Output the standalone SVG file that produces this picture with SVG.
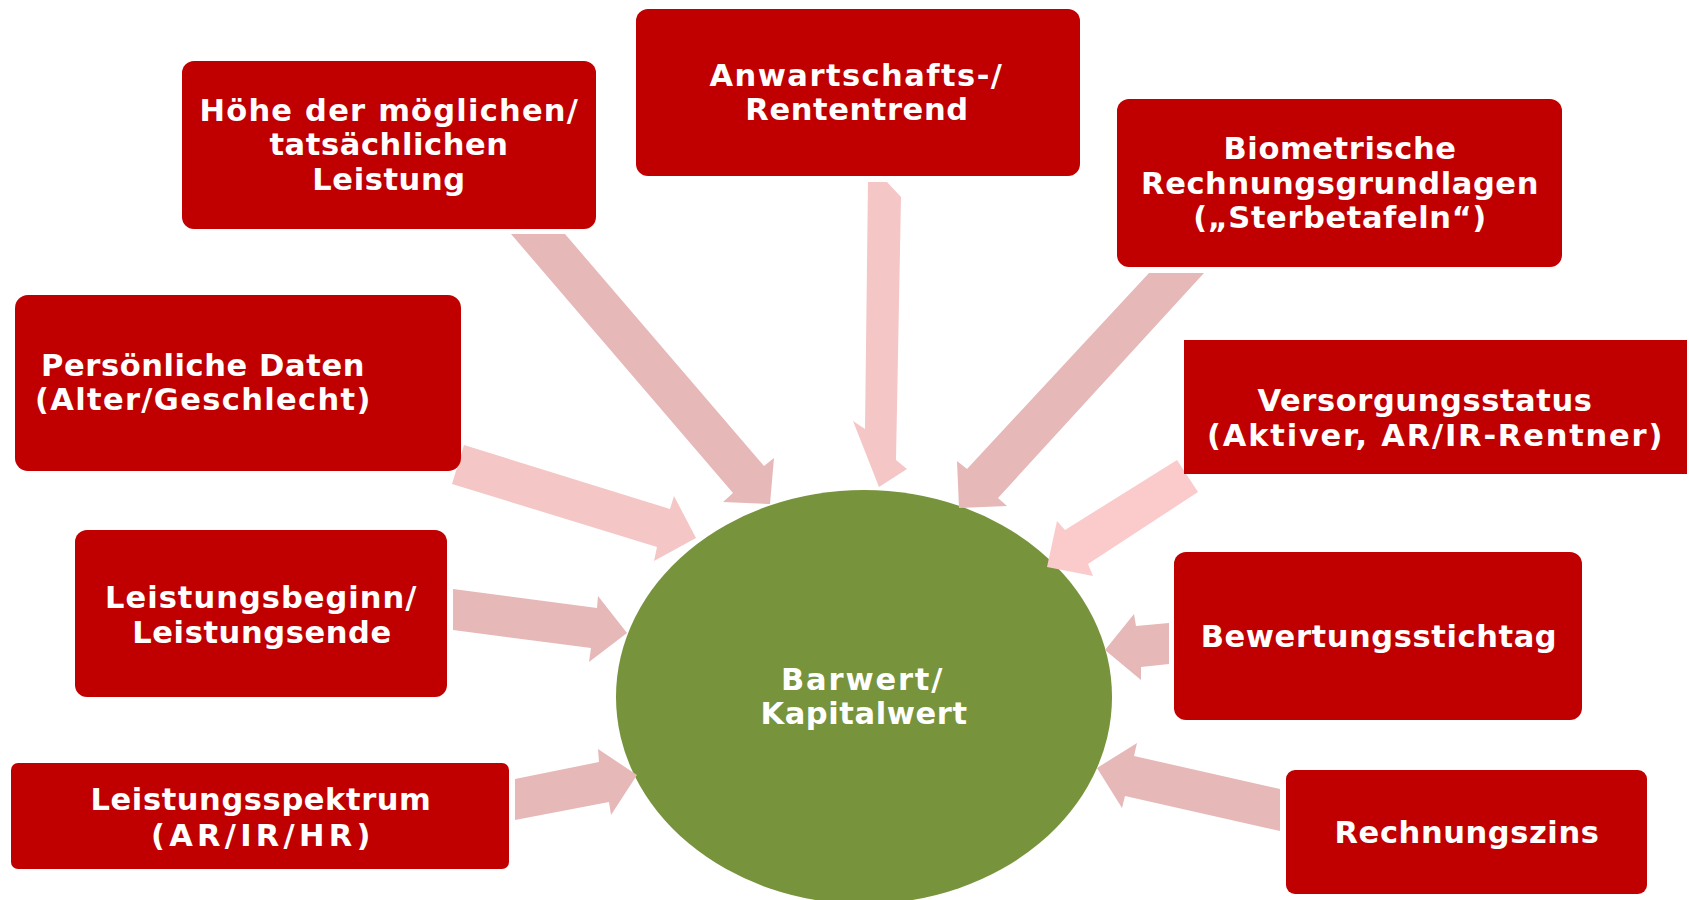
<svg xmlns="http://www.w3.org/2000/svg" width="1689" height="900" viewBox="0 0 1689 900">
<style>
.box{fill:#C00000;}
.t{fill:#FFFFFF;font-family:"DejaVu Sans","Verdana",sans-serif;font-weight:bold;font-size:30.5px;letter-spacing:0.6px;text-anchor:middle;}
.a1{fill:#E6B8B8;}
.a2{fill:#F5C6C6;}
.a3{fill:#FBCBCB;}
.ell{fill:#77933C;}
</style>
<rect width="1689" height="900" fill="#FFFFFF"/>
<g id="center">
<ellipse class="ell" cx="864" cy="697" rx="248" ry="207"/>
<text class="t" x="862" y="690" textLength="162" lengthAdjust="spacing">Barwert/</text>
<text class="t" x="864" y="724">Kapitalwert</text>
</g>
<g id="connectors">
<polygon class="a1" points="511,234 565,234 764,466 774,458 770,504 723,502 733,493"/>
<polygon class="a2" points="868,182 887,182 901,197 896,460 907,469 879,487 853,421 865,429"/>
<polygon class="a1" points="1149,273 1204,273 998,498 1007,506 959,508 957,461 967,469"/>
<polygon class="a2" points="464,445 452,484 657,547 654,561 696,538 674,496 670,509"/>
<polygon class="a3" points="1177,460 1198,492 1088,564 1093,576 1047,567 1057,521 1065,530"/>
<polygon class="a1" points="453,589 453,630 591,648 589,662 627,633 598,596 597,608"/>
<polygon class="a1" points="1169,623 1169,664 1141,667 1141,680 1105,650 1134,614 1136,626"/>
<polygon class="a1" points="515,779 515,820 609,802 611,815 637,775 598,749 599,762"/>
<polygon class="a1" points="1280,789 1280,831 1125,796 1122,808 1097,768 1137,743 1134,756"/>
</g>
<g id="n-hoehe">
<rect class="box" x="182" y="61" width="414" height="168" rx="12"/>
<text class="t" x="389" y="121" textLength="379" lengthAdjust="spacing">Höhe der möglichen/</text>
<text class="t" x="389" y="155">tatsächlichen</text>
<text class="t" x="389" y="190">Leistung</text>
</g>
<g id="n-anwartschaft">
<rect class="box" x="636" y="9" width="444" height="167" rx="12"/>
<text class="t" x="856" y="86" textLength="293" lengthAdjust="spacing">Anwartschafts-/</text>
<text class="t" x="857" y="120">Rententrend</text>
</g>
<g id="n-biometrie">
<rect class="box" x="1117" y="99" width="445" height="168" rx="12"/>
<text class="t" x="1340" y="159">Biometrische</text>
<text class="t" x="1340" y="194">Rechnungsgrundlagen</text>
<text class="t" x="1340" y="228">(„Sterbetafeln“)</text>
</g>
<g id="n-persoenlich">
<rect class="box" x="15" y="295" width="446" height="176" rx="13"/>
<text class="t" x="203" y="376">Persönliche Daten</text>
<text class="t" x="203" y="410" textLength="336" lengthAdjust="spacing">(Alter/Geschlecht)</text>
</g>
<g id="n-versorgung">
<rect class="box" x="1184" y="340" width="503" height="134"/>
<text class="t" x="1425" y="411">Versorgungsstatus</text>
<text class="t" x="1435" y="446" textLength="456" lengthAdjust="spacing">(Aktiver, AR/IR-Rentner)</text>
</g>
<g id="n-beginn">
<rect class="box" x="75" y="530" width="372" height="167" rx="12"/>
<text class="t" x="261" y="608" textLength="312" lengthAdjust="spacing">Leistungsbeginn/</text>
<text class="t" x="262" y="643">Leistungsende</text>
</g>
<g id="n-stichtag">
<rect class="box" x="1174" y="552" width="408" height="168" rx="12"/>
<text class="t" x="1379" y="647">Bewertungsstichtag</text>
</g>
<g id="n-spektrum">
<rect class="box" x="11" y="763" width="498" height="106" rx="7"/>
<text class="t" x="261" y="810">Leistungsspektrum</text>
<text class="t" x="261" y="846" textLength="220" lengthAdjust="spacing">(AR/IR/HR)</text>
</g>
<g id="n-zins">
<rect class="box" x="1286" y="770" width="361" height="124" rx="9"/>
<text class="t" x="1467" y="843">Rechnungszins</text>
</g>
</svg>
